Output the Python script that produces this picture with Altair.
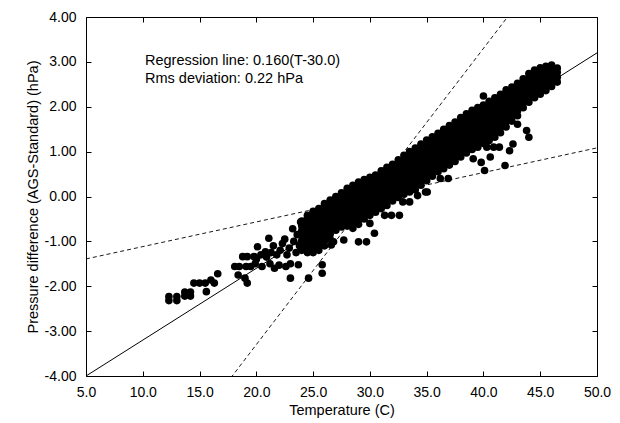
import altair as alt
import pandas as pd
import numpy as np

FONT = "Liberation Sans"
W, H = 511, 359

# ---- data ----
# dense band: temperature columns and y values observed in each column
band_t = [24.0, 24.5, 25.0, 25.5, 26.0, 26.5, 27.0, 27.5, 28.0, 28.5, 29.0, 29.5,
          30.0, 30.5, 31.0, 31.5, 32.0, 32.5, 33.0, 33.5, 34.0, 34.5, 35.0, 35.5,
          36.0, 36.5, 37.0, 37.5, 38.0, 38.5, 39.0, 39.5, 40.0, 40.5, 41.0, 41.5,
          42.0, 42.5, 43.0, 43.5, 44.0, 44.5, 45.0, 45.5, 46.0, 46.5]
band_y = [
    [-1.20, -1.09, -0.98, -0.87, -0.76, -0.65, -0.55],
    [-1.25, -1.14, -1.03, -0.92, -0.81, -0.70, -0.59, -0.48, -0.42],
    [-1.25, -1.14, -1.03, -0.92, -0.81, -0.70, -0.59, -0.48, -0.37, -0.33],
    [-1.20, -1.09, -0.98, -0.87, -0.76, -0.65, -0.54, -0.43, -0.32, -0.27],
    [-1.10, -0.99, -0.88, -0.77, -0.66, -0.55, -0.44, -0.33, -0.22, -0.16],
    [-0.95, -0.84, -0.73, -0.62, -0.51, -0.40, -0.29, -0.18, -0.08],
    [-0.75, -0.64, -0.53, -0.42, -0.31, -0.20, -0.09, 0.00],
    [-0.68, -0.57, -0.46, -0.35, -0.24, -0.13, -0.02, 0.08],
    [-0.66, -0.55, -0.44, -0.33, -0.22, -0.11, 0.00, 0.11, 0.18],
    [-0.64, -0.53, -0.42, -0.31, -0.20, -0.09, 0.02, 0.13, 0.25],
    [-0.62, -0.51, -0.40, -0.29, -0.18, -0.07, 0.04, 0.15, 0.26, 0.32],
    [-0.50, -0.39, -0.28, -0.17, -0.06, 0.05, 0.16, 0.27, 0.38],
    [-0.42, -0.31, -0.20, -0.09, 0.02, 0.13, 0.24, 0.35, 0.43],
    [-0.35, -0.24, -0.13, -0.02, 0.09, 0.20, 0.31, 0.42, 0.48],
    [-0.27, -0.16, -0.05, 0.06, 0.17, 0.28, 0.39, 0.50, 0.57],
    [-0.20, -0.09, 0.02, 0.13, 0.24, 0.35, 0.46, 0.57, 0.65],
    [-0.10, 0.01, 0.12, 0.23, 0.34, 0.45, 0.56, 0.67, 0.72],
    [-0.02, 0.09, 0.20, 0.31, 0.42, 0.53, 0.64, 0.75, 0.82],
    [0.05, 0.16, 0.27, 0.38, 0.49, 0.60, 0.71, 0.82, 0.92],
    [0.10, 0.21, 0.32, 0.43, 0.54, 0.65, 0.76, 0.87, 0.98, 1.00],
    [0.15, 0.26, 0.37, 0.48, 0.59, 0.70, 0.81, 0.92, 1.03, 1.08],
    [0.25, 0.36, 0.47, 0.58, 0.69, 0.80, 0.91, 1.02, 1.13, 1.17],
    [0.35, 0.46, 0.57, 0.68, 0.79, 0.90, 1.01, 1.12, 1.22, 1.26],
    [0.45, 0.56, 0.67, 0.78, 0.89, 1.00, 1.11, 1.22, 1.33],
    [0.55, 0.66, 0.77, 0.88, 0.99, 1.10, 1.21, 1.32, 1.41],
    [0.62, 0.73, 0.84, 0.95, 1.06, 1.17, 1.28, 1.39, 1.50],
    [0.70, 0.81, 0.92, 1.03, 1.14, 1.25, 1.36, 1.47, 1.58],
    [0.78, 0.89, 1.00, 1.11, 1.22, 1.33, 1.44, 1.55, 1.66],
    [0.88, 0.99, 1.10, 1.21, 1.32, 1.43, 1.54, 1.65, 1.76],
    [0.97, 1.08, 1.19, 1.30, 1.41, 1.52, 1.63, 1.74, 1.84],
    [1.05, 1.16, 1.27, 1.38, 1.49, 1.60, 1.71, 1.82, 1.92],
    [1.10, 1.21, 1.32, 1.43, 1.54, 1.65, 1.76, 1.87, 1.98],
    [1.18, 1.29, 1.40, 1.51, 1.62, 1.73, 1.84, 1.95, 2.04],
    [1.25, 1.36, 1.47, 1.58, 1.69, 1.80, 1.91, 2.02, 2.12],
    [1.32, 1.43, 1.54, 1.65, 1.76, 1.87, 1.98, 2.09, 2.20],
    [1.42, 1.53, 1.64, 1.75, 1.86, 1.97, 2.08, 2.19, 2.28],
    [1.55, 1.66, 1.77, 1.88, 1.99, 2.10, 2.21, 2.32, 2.38],
    [1.68, 1.79, 1.90, 2.01, 2.12, 2.23, 2.34, 2.44],
    [1.80, 1.91, 2.02, 2.13, 2.24, 2.35, 2.46, 2.52],
    [1.98, 2.09, 2.20, 2.31, 2.42, 2.53, 2.62],
    [2.10, 2.21, 2.32, 2.43, 2.54, 2.65, 2.74],
    [2.20, 2.31, 2.42, 2.53, 2.64, 2.75, 2.82],
    [2.28, 2.39, 2.50, 2.61, 2.72, 2.83, 2.87],
    [2.36, 2.47, 2.58, 2.69, 2.80, 2.90],
    [2.45, 2.56, 2.67, 2.78, 2.89, 2.93],
    [2.55, 2.66, 2.77, 2.86],
]

# isolated / sparse points
sparse_t = [12.3, 12.3, 13.0, 13.0, 13.7, 13.7, 14.2, 14.2, 14.5, 15.0, 15.5, 15.6,
            16.0, 16.3, 16.6, 18.1, 18.5, 19.1, 19.5, 18.4, 19.0, 19.2, 18.8, 19.2,
            19.8, 20.1, 20.8, 21.1, 19.9, 20.5, 21.2, 21.6, 22.0, 22.6, 23.0, 23.0,
            24.6, 25.8, 23.7, 23.2, 23.9, 20.0, 20.4, 20.9, 21.3, 21.5, 21.8, 22.1,
            22.3, 22.5, 22.7, 22.9, 23.3, 23.5, 23.6, 23.8, 25.8,
            26.6, 26.8, 27.7, 28.5, 29.0, 29.7, 30.0, 30.4, 31.3, 31.9, 32.6, 32.9,
            33.5, 34.2, 34.3, 34.9, 35.05, 36.2, 36.9,
            40.0, 39.1, 39.8, 40.1, 40.6, 41.9, 42.3, 42.6, 43.0, 43.8, 44.0,
            40.3, 40.9, 41.4]
sparse_y = [-2.23, -2.32, -2.23, -2.32, -2.13, -2.22, -2.13, -2.22, -1.93, -1.93, -1.93, -2.12,
            -1.86, -1.93, -1.72, -1.56, -1.56, -1.56, -1.56, -1.75, -1.82, -1.93, -1.34, -1.34,
            -1.34, -1.12, -1.23, -0.93, -1.50, -1.56, -1.50, -1.60, -1.53, -1.56, -1.50, -1.82,
            -1.82, -1.71, -1.52, -0.72, -0.57, -1.40, -1.30, -1.35, -1.25, -1.10, -1.30, -1.20,
            -1.05, -0.95, -1.30, -1.15, -1.00, -1.25, -0.85, -1.10, -1.52,
            -1.08, -1.01, -0.97, -0.71, -1.01, -1.01, -0.60, -0.82, -0.42, -0.42, -0.42, -0.12,
            -0.12, 0.02, 0.28, 0.10, 0.10, 0.40, 0.40,
            2.24, 0.84, 0.76, 0.58, 0.88, 0.69, 1.02, 1.17, 1.61, 1.47, 1.32,
            1.10, 1.10, 1.10]

# lines: regression and two dashed reference lines (slope, center temperature)
reg_slope, reg_center = 0.160, 30.0
steep_slope, steep_center = 0.33, 30.0
shallow_slope, shallow_center = 0.055, 30.3
x_ticks = [5, 10, 15, 20, 25, 30, 35, 40, 45, 50]
y_ticks = [-4, -3, -2, -1, 0, 1, 2, 3, 4]

# ---- tables ----
rows = []
for t, ys in zip(band_t, band_y):
    for y in ys:
        rows.append({"T": t, "P": y})
for t, y in zip(sparse_t, sparse_y):
    rows.append({"T": t, "P": y})
pts = pd.DataFrame(rows)

tt = np.array([5.0, 50.0])
reg_df = pd.DataFrame({"T": tt, "P": reg_slope * (tt - reg_center)})
steep_df = pd.DataFrame({"T": tt, "P": steep_slope * (tt - steep_center)})
shallow_df = pd.DataFrame({"T": tt, "P": shallow_slope * (tt - shallow_center)})

xs = alt.Scale(domain=[5, 50], nice=False, zero=False)
ys_ = alt.Scale(domain=[-4, 4], nice=False, zero=False)

lab = dict(labelFont=FONT, labelFontSize=14, labelColor="black",
           titleFont=FONT, titleFontSize=14.5, titleColor="black",
           titleFontWeight="normal", grid=False, labelFlush=False,
           labelOverlap=False)

x_main = alt.Axis(orient="bottom", values=x_ticks, format=".1f", ticks=False, tickSize=0,
                  domain=False, title="Temperature (C)", labelPadding=9,
                  titlePadding=4, **lab)
y_main = alt.Axis(orient="left", values=y_ticks, ticks=False, tickSize=0, domain=False,
                  labelExpr="replace(format(datum.value, '.2f'), '\u2212', '-')",
                  title="Pressure difference (AGS-Standard) (hPa)", labelPadding=10,
                  titlePadding=4, **lab)

tick_style = dict(labels=False, ticks=True, tickSize=5, tickColor="black",
                  tickWidth=1, domain=False, title=None, grid=False)


def tick_axis(orient, offset, values):
    return alt.Axis(orient=orient, offset=offset, values=values, **tick_style)


reg_line = alt.Chart(reg_df).mark_line(color="black", strokeWidth=1, clip=True).encode(
    x=alt.X("T:Q", scale=xs, axis=tick_axis("top", -H, x_ticks)),
    y=alt.Y("P:Q", scale=ys_, axis=tick_axis("right", -W, y_ticks)),
)
steep_line = alt.Chart(steep_df).mark_line(color="black", strokeWidth=0.9,
                                           strokeDash=[4, 3], clip=True).encode(
    x=alt.X("T:Q", scale=xs, axis=tick_axis("bottom", -H, x_ticks)),
    y=alt.Y("P:Q", scale=ys_, axis=tick_axis("left", -W, y_ticks)),
)
shallow_line = alt.Chart(shallow_df).mark_line(color="black", strokeWidth=0.9,
                                               strokeDash=[4, 3], clip=True).encode(
    x=alt.X("T:Q", scale=xs, axis=None),
    y=alt.Y("P:Q", scale=ys_, axis=None),
)
points = alt.Chart(pts).mark_circle(size=58, color="black", opacity=1).encode(
    x=alt.X("T:Q", scale=xs, axis=x_main),
    y=alt.Y("P:Q", scale=ys_, axis=y_main),
)
txt1 = alt.Chart(pd.DataFrame({"a": [0]})).mark_text(
    text="Regression line: 0.160(T-30.0)", align="left", baseline="middle",
    font=FONT, fontSize=14.5, color="black").encode(x=alt.value(59), y=alt.value(44))
txt2 = alt.Chart(pd.DataFrame({"a": [0]})).mark_text(
    text="Rms deviation: 0.22 hPa", align="left", baseline="middle",
    font=FONT, fontSize=14.5, color="black").encode(x=alt.value(59), y=alt.value(62))

chart = alt.layer(reg_line, steep_line, shallow_line, points, txt1, txt2).resolve_axis(
    x="independent", y="independent"
).properties(
    width=W, height=H,
    autosize=alt.AutoSizeParams(type="none"),
    padding={"left": 78, "top": 9, "right": 15, "bottom": 47},
    background="white",
).configure_view(stroke="black", strokeWidth=1)

chart.save("out.html", embed_options={"renderer": "svg", "actions": False})
